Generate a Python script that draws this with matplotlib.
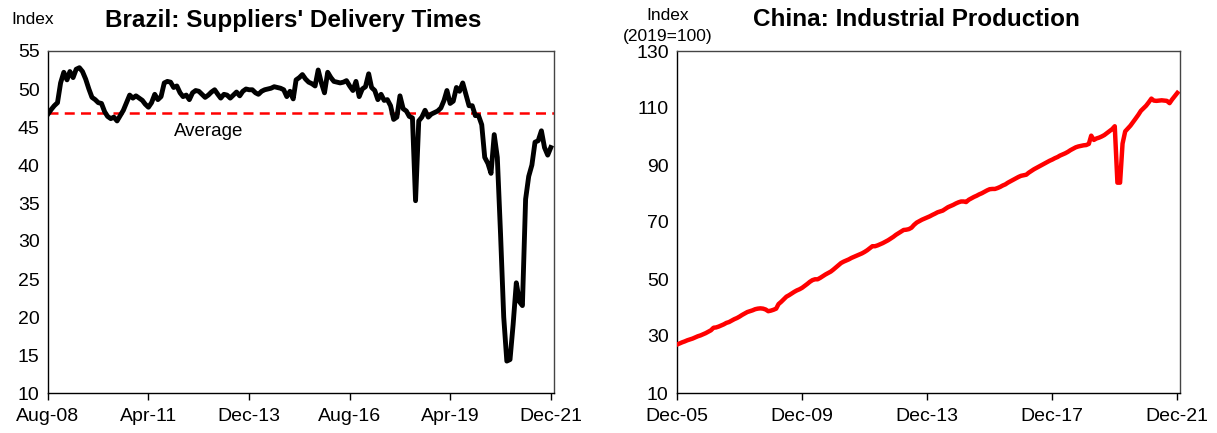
import matplotlib
matplotlib.use("Agg")
import matplotlib.pyplot as plt
import matplotlib.dates as mdates
import pandas as pd

plt.rcParams["font.family"] = ["Liberation Sans", "DejaVu Sans"]

# Brazil PMI: suppliers' delivery times, monthly Aug-2008 .. Dec-2021
brazil_values = [
    46.7, 47.3, 47.8, 48.2, 50.8, 52.2, 51.2, 52.3, 51.5, 52.6,
    52.8, 52.3, 51.3, 50.0, 48.9, 48.6, 48.2, 48.1, 47.0, 46.4,
    46.1, 46.3, 45.8, 46.5, 47.2, 48.2, 49.2, 48.8, 49.1, 48.8,
    48.5, 48.0, 47.6, 48.2, 49.3, 48.6, 49.0, 50.8, 51.0, 50.9,
    50.2, 50.4, 49.5, 49.0, 49.2, 48.6, 49.5, 49.8, 49.7, 49.3,
    48.9, 49.2, 49.6, 49.9, 49.3, 48.8, 49.3, 49.2, 48.8, 49.2,
    49.6, 49.1, 49.7, 50.0, 49.9, 49.9, 49.5, 49.3, 49.7, 49.9,
    50.0, 50.1, 50.3, 50.2, 50.1, 49.9, 49.0, 49.7, 48.7, 51.2,
    51.5, 51.9, 51.3, 50.9, 50.7, 50.4, 52.5, 50.8, 49.5, 52.2,
    51.5, 51.0, 50.9, 50.8, 50.9, 51.1, 50.4, 49.8, 51.0, 49.0,
    50.0, 50.3, 52.0, 50.2, 49.8, 48.6, 49.3, 48.5, 48.6, 47.8,
    46.0, 46.3, 49.1, 47.4, 47.1, 46.4, 46.2, 35.3, 45.8, 46.3,
    47.2, 46.3, 46.7, 46.9, 47.1, 47.5, 48.5, 49.8, 48.1, 48.4,
    50.2, 49.7, 50.8, 49.3, 47.8, 47.8, 46.5, 46.5, 45.3, 41.0,
    40.2, 38.9, 44.0, 41.0, 31.0, 20.0, 14.2, 14.4, 19.0, 24.5,
    22.0, 21.5, 35.5, 38.5, 40.0, 43.0, 43.2, 44.5, 42.3, 41.3,
    42.3,
]
brazil_average = 46.8
brazil_ticks = ["2008-08", "2011-04", "2013-12", "2016-08", "2019-04", "2021-12"]

# China industrial production index (2019=100), monthly Dec-2005 .. Dec-2021
china_values = [
    27.0, 27.4, 27.8, 28.1, 28.5, 28.8, 29.1, 29.5, 29.9, 30.2, 30.6, 31.0,
    31.5, 32.0, 32.9, 33.0, 33.3, 33.7, 34.1, 34.6, 34.9, 35.4, 35.9, 36.3,
    36.8, 37.4, 37.9, 38.4, 38.7, 39.0, 39.4, 39.6, 39.7, 39.6, 39.3, 38.7,
    38.9, 39.2, 39.6, 41.2, 42.0, 42.9, 43.8, 44.3, 44.9, 45.5, 46.0, 46.4,
    46.9, 47.6, 48.3, 49.0, 49.6, 49.9, 49.9, 50.4, 51.0, 51.6, 52.1, 52.6,
    53.3, 54.1, 54.9, 55.6, 56.1, 56.5, 56.9, 57.4, 57.8, 58.2, 58.6, 59.0,
    59.5, 60.1, 60.8, 61.5, 61.5, 61.8, 62.2, 62.6, 63.1, 63.6, 64.2, 64.8,
    65.5, 66.1, 66.7, 67.2, 67.3, 67.5, 68.0, 69.0, 69.8, 70.3, 70.8, 71.2,
    71.6, 72.0, 72.5, 72.9, 73.4, 73.7, 74.0, 74.6, 75.2, 75.6, 76.0, 76.5,
    76.9, 77.2, 77.2, 77.0, 77.8, 78.3, 78.8, 79.2, 79.7, 80.1, 80.6, 81.1,
    81.5, 81.6, 81.6, 81.9, 82.3, 82.8, 83.2, 83.8, 84.3, 84.8, 85.3, 85.8,
    86.2, 86.4, 86.6, 87.3, 87.9, 88.5, 89.0, 89.5, 90.0, 90.5, 91.0, 91.5,
    91.9, 92.4, 92.8, 93.3, 93.7, 94.1, 94.6, 95.2, 95.7, 96.2, 96.5, 96.7,
    96.9, 97.0, 97.4, 100.3, 98.8, 99.3, 99.6, 100.0, 100.5, 101.2, 101.9, 102.6,
    103.6, 83.8, 83.8, 97.5, 101.8, 102.8, 103.8, 105.0, 106.3, 107.6, 109.0, 109.9,
    110.8, 112.0, 113.3, 112.6, 112.5, 112.6, 112.7, 112.6, 112.5, 111.7, 113.0, 114.2,
    115.3,
]
china_ticks = ["2005-12", "2009-12", "2013-12", "2017-12", "2021-12"]


def style_axes(ax, ticks, xlim, ylim, yticks):
    ax.set_xlim(pd.Timestamp(xlim[0]), pd.Timestamp(xlim[1]))
    ax.set_ylim(*ylim)
    ax.set_yticks(yticks)
    tick_dates = [pd.Timestamp(t) for t in ticks]
    ax.set_xticks(tick_dates)
    ax.xaxis.set_major_formatter(mdates.DateFormatter("%b-%y"))
    ax.tick_params(axis="x", direction="out", length=5, width=1, labelsize=14, pad=6)
    ax.tick_params(axis="y", length=0, labelsize=14, pad=6)
    for side in ["left", "bottom"]:
        ax.spines[side].set_color("black")
        ax.spines[side].set_linewidth(1.0)
    for side in ["top", "right"]:
        ax.spines[side].set_color("#444444")
        ax.spines[side].set_linewidth(1.0)


fig = plt.figure(figsize=(12.17, 4.33), dpi=100)
W, H = 1217, 433

# left panel
ax1 = fig.add_axes([48 / W, (H - 393) / H, (554 - 48) / W, (393 - 51) / H])
brazil_dates = pd.date_range("2008-08-01", periods=len(brazil_values), freq="MS")
ax1.axhline(brazil_average, color="#ff0000", lw=1.8, ls=(0, (4, 2.5)), zorder=2)
ax1.plot(brazil_dates, brazil_values, color="black", lw=3.5, solid_joinstyle="round", zorder=3)
style_axes(ax1, brazil_ticks, ("2008-08-01", "2022-01-01"), (10, 55), range(10, 56, 5))
ax1.text(pd.Timestamp("2012-11-01"), 44.4, "Average", fontsize=13.5, ha="center", va="center")

# right panel
ax2 = fig.add_axes([677 / W, (H - 393) / H, (1180 - 677) / W, (393 - 51) / H])
china_dates = pd.date_range("2005-12-01", periods=len(china_values), freq="MS")
ax2.plot(china_dates, china_values, color="#ff0000", lw=3.2, solid_joinstyle="round", zorder=3)
style_axes(ax2, china_ticks, ("2005-12-01", "2022-01-01"), (10, 130), range(10, 131, 20))

# titles and unit labels
fig.text(293 / W, 1 - 20 / H, "Brazil: Suppliers' Delivery Times", fontsize=17.5,
         fontweight="bold", ha="center", va="center")
fig.text(916 / W, 1 - 19 / H, "China: Industrial Production", fontsize=17.5,
         fontweight="bold", ha="center", va="center")
fig.text(33 / W, 1 - 20 / H, "Index", fontsize=12.5, ha="center", va="center")
fig.text(668 / W, 1 - 15 / H, "Index", fontsize=12.5, ha="center", va="center")
fig.text(668 / W, 1 - 36 / H, "(2019=100)", fontsize=12.5, ha="center", va="center")

fig.savefig("out.png", dpi=100)
